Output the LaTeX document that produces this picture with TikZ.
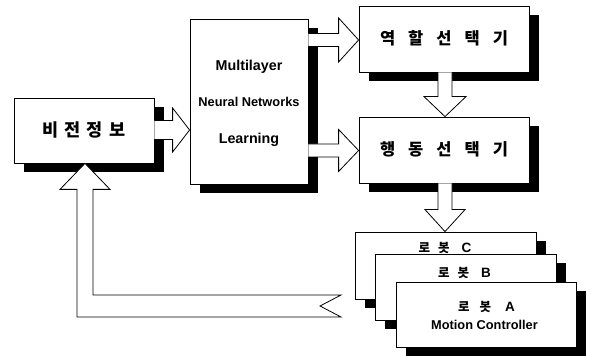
\documentclass[tikz,border=0pt]{standalone}
\usepackage{fontspec}
\setmainfont{Liberation Sans}
\newfontfamily\kr{Noto Sans CJK KR}
\usetikzlibrary{shadows,calc}
\newcommand{\harr}[6]{% from, to, y, shaft half, head half, head length
  \draw[blk] let \p1=(#1.east), \p2=(#2.west) in
    (\x1,#3+#4) -- (\x2-#6,#3+#4) -- (\x2-#6,#3+#5) -- (\x2,#3) --
    (\x2-#6,#3-#5) -- (\x2-#6,#3-#4) -- (\x1,#3-#4);}
\newcommand{\varr}[6]{% from, to, x, shaft half, head half, head length
  \draw[blk] let \p1=(#1.south), \p2=(#2.north) in
    (#3-#4,\y1) -- (#3-#4,\y2+#6) -- (#3-#5,\y2+#6) -- (#3,\y2) --
    (#3+#5,\y2+#6) -- (#3+#4,\y2+#6) -- (#3+#4,\y1);}
\begin{document}
\begin{tikzpicture}[x=1pt,y=1pt,
  box/.style={draw=black, line width=0.8pt, fill=white, inner sep=0pt,
    drop shadow={shadow xshift=9.5pt, shadow yshift=-9.5pt, fill=black, opacity=1}},
  blk/.style={draw=black, line width=0.8pt, fill=white, line join=miter},
  latbig/.style={font=\bfseries\fontsize{14.3}{16}\selectfont, text height=10.2pt, text depth=0pt, inner sep=0pt},
  latmid/.style={font=\bfseries\fontsize{12.8}{15}\selectfont, text height=9.2pt, text depth=0pt, inner sep=0pt},
  krbig/.style={font=\kr\bfseries\fontsize{17.5}{19}\selectfont, text height=13pt, text depth=0pt},
  krmid/.style={font=\kr\bfseries\fontsize{16.5}{18}\selectfont, text height=12pt, text depth=0pt},
  robtxt/.style={inner sep=0pt, text height=9.5pt, text depth=0pt}
]
\useasboundingbox (0,0) rectangle (589,356);

% boxes
\node[box, minimum width=140pt, minimum height=65pt, krbig] (vis) at (84,225.5)
  {비\hspace{6pt}전\hspace{6pt}정\hspace{6pt}보};
\node[box, minimum width=118pt, minimum height=165pt] (mnn) at (249,254.5) {};
\node[box, minimum width=170pt, minimum height=66pt, krmid] (role) at (444,317)
  {역\hspace{13pt}할\hspace{13pt}선\hspace{13pt}택\hspace{13pt}기};
\node[box, minimum width=170pt, minimum height=66pt, krmid] (act) at (444,206)
  {행\hspace{13pt}동\hspace{13pt}선\hspace{13pt}택\hspace{13pt}기};
\node[box, minimum width=181pt, minimum height=67pt] (robC) at (445.5,90.5) {};
\node[box, minimum width=181pt, minimum height=66pt] (robB) at (465.5,69) {};
\node[box, minimum width=180pt, minimum height=65pt] (robA) at (486,41.5) {};

% texts
\node[latbig] (t1) at ($(mnn.center)+(0,36.5)$) {Multilayer};
\node[latmid] (t2) at ($(mnn.center)+(0,0)$) {Neural Networks};
\node[latbig] (t3) at ($(mnn.center)+(0,-36.5)$) {Learning};

\node[robtxt] (lc) at (445,108)
  {{\kr\bfseries\fontsize{12.5}{14}\selectfont 로\hspace{8pt}봇}\hspace{12pt}{\bfseries\fontsize{13.5}{15}\selectfont C}};
\node[robtxt] (lb) at (464.5,83)
  {{\kr\bfseries\fontsize{12.5}{14}\selectfont 로\hspace{8pt}봇}\hspace{12pt}{\bfseries\fontsize{13.5}{15}\selectfont B}};
\node[robtxt] (la) at (486.5,49)
  {{\kr\bfseries\fontsize{12.5}{14}\selectfont 로\hspace{10pt}봇}\hspace{14pt}{\bfseries\fontsize{13.5}{15}\selectfont A}};
\node[latmid] (mc) at (484.5,31) {Motion Controller};

% block arrows
\harr{vis}{mnn}{226}{9.5}{22}{17}
\harr{mnn}{role}{316}{6.5}{22}{20}
\harr{mnn}{act}{205.5}{6.5}{21}{20}
\varr{role}{act}{445}{7}{21}{20}
\varr{act}{robC}{445}{7}{20}{22}

% feedback arrow
\coordinate (fbend) at (341,50);
\draw[blk] let \p1=(vis.south) in
  (\x1+1,\y1) -- (\x1+26,\y1-26) -- (\x1+9,\y1-26) -- (\x1+9,61) --
  (fbend |- 0,61) -- (320,50) -- (fbend |- 0,39) -- (\x1-7,39) --
  (\x1-7,\y1-26) -- (\x1-24,\y1-26) -- cycle;
\end{tikzpicture}
\end{document}
